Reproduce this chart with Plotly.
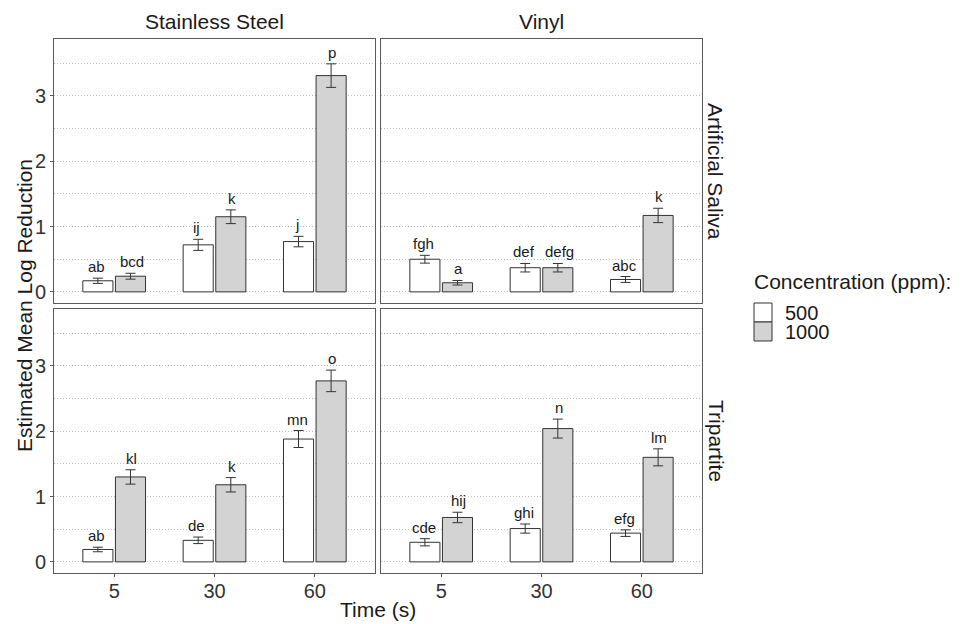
import plotly.graph_objects as go
from plotly.subplots import make_subplots

# ---- data ----
times = ["5", "30", "60"]
surfaces = ["Stainless Steel", "Vinyl"]
soils = ["Artificial Saliva", "Tripartite"]
conc_labels = ["500", "1000"]
legend_title = "Concentration (ppm):"

# Estimated mean log reduction (per time)
ss_saliva_500 = [0.17, 0.72, 0.77]
ss_saliva_1000 = [0.24, 1.15, 3.31]
vi_saliva_500 = [0.50, 0.37, 0.19]
vi_saliva_1000 = [0.14, 0.37, 1.17]
ss_tri_500 = [0.19, 0.33, 1.88]
ss_tri_1000 = [1.30, 1.18, 2.77]
vi_tri_500 = [0.30, 0.51, 0.44]
vi_tri_1000 = [0.68, 2.04, 1.60]

# standard errors
ss_saliva_500_se = [0.04, 0.085, 0.08]
ss_saliva_1000_se = [0.045, 0.105, 0.18]
vi_saliva_500_se = [0.06, 0.065, 0.045]
vi_saliva_1000_se = [0.035, 0.065, 0.11]
ss_tri_500_se = [0.035, 0.05, 0.13]
ss_tri_1000_se = [0.11, 0.11, 0.165]
vi_tri_500_se = [0.055, 0.07, 0.05]
vi_tri_1000_se = [0.08, 0.145, 0.13]

# letter groupings
ss_saliva_500_lab = ["ab", "ij", "j"]
ss_saliva_1000_lab = ["bcd", "k", "p"]
vi_saliva_500_lab = ["fgh", "def", "abc"]
vi_saliva_1000_lab = ["a", "defg", "k"]
ss_tri_500_lab = ["ab", "de", "mn"]
ss_tri_1000_lab = ["kl", "k", "o"]
vi_tri_500_lab = ["cde", "ghi", "efg"]
vi_tri_1000_lab = ["hij", "n", "lm"]

panels = [
    (1, 1, [(ss_saliva_500, ss_saliva_500_se, ss_saliva_500_lab), (ss_saliva_1000, ss_saliva_1000_se, ss_saliva_1000_lab)]),
    (1, 2, [(vi_saliva_500, vi_saliva_500_se, vi_saliva_500_lab), (vi_saliva_1000, vi_saliva_1000_se, vi_saliva_1000_lab)]),
    (2, 1, [(ss_tri_500, ss_tri_500_se, ss_tri_500_lab), (ss_tri_1000, ss_tri_1000_se, ss_tri_1000_lab)]),
    (2, 2, [(vi_tri_500, vi_tri_500_se, vi_tri_500_lab), (vi_tri_1000, vi_tri_1000_se, vi_tri_1000_lab)]),
]

fills = ["#FFFFFF", "#D3D3D3"]
FONT = "Liberation Sans, Arial, sans-serif"
EDGE = "#333333"
TXT = "#1A1A1A"
GRID = "#BEBEBE"
DOT = "1px,2px"
FRAME = "#5A5A5A"

fig = make_subplots(rows=2, cols=2)

for r, c, series in panels:
    for k, (vals, se, labs) in enumerate(series):
        fig.add_trace(
            go.Bar(
                x=times, y=vals, name=conc_labels[k],
                marker=dict(color=fills[k], line=dict(color=EDGE, width=1)),
                error_y=dict(type="data", array=se, visible=True, color=EDGE,
                             thickness=1, width=5),
                showlegend=False, offsetgroup=str(k),
            ),
            row=r, col=c,
        )

# domains (paper fractions)
W, H = 976, 624
xdom = [(54 / W, 375 / W), (381 / W, 702 / W)]
ydom = [(1 - 303 / H, 1 - 39 / H), (1 - 573 / H, 1 - 309 / H)]

ax_i = 0
for r in (1, 2):
    for c in (1, 2):
        ax_i += 1
        sx = "xaxis" if ax_i == 1 else f"xaxis{ax_i}"
        sy = "yaxis" if ax_i == 1 else f"yaxis{ax_i}"
        fig.layout[sx].update(
            domain=xdom[c - 1], type="category", range=[-0.6, 2.6],
            automargin=False,
            showline=True, mirror=True, linecolor=FRAME, linewidth=1,
            showgrid=False, zeroline=False,
            ticks="outside" if r == 2 else "", ticklen=3, tickcolor=FRAME,
            showticklabels=(r == 2), ticklabelstandoff=-3,
            tickfont=dict(family=FONT, size=20, color="#333333"),
        )
        fig.layout[sy].update(
            domain=ydom[r - 1], range=[-0.17, 3.87],
            automargin=False,
            tickvals=[0, 1, 2, 3], ticktext=["0", "1", "2", "3"],
            showline=True, mirror=True, linecolor=FRAME, linewidth=1,
            showgrid=True, gridcolor=GRID, griddash=DOT, gridwidth=1,
            minor=dict(dtick=0.5, tick0=0, showgrid=True, gridcolor=GRID,
                       griddash=DOT, gridwidth=1),
            zeroline=False,
            ticks="outside" if c == 1 else "", ticklen=3, tickcolor=FRAME,
            showticklabels=(c == 1),
            tickfont=dict(family=FONT, size=20, color="#333333"),
        )

annotations = []
shapes = []
# letters above error bars
ax_i = 0
for r, c, series in panels:
    ax_i += 1
    xref = "x" if ax_i == 1 else f"x{ax_i}"
    yref = "y" if ax_i == 1 else f"y{ax_i}"
    for k, (vals, se, labs) in enumerate(series):
        off = -0.175 if k == 0 else 0.175
        for i, t in enumerate(times):
            annotations.append(dict(
                x=i + off, y=vals[i] + se[i], xref=xref, yref=yref,
                text=labs[i], showarrow=False, yanchor="bottom", xanchor="center",
                yshift=1, font=dict(family=FONT, size=15, color=TXT),
            ))

# strip labels
for j, s in enumerate(surfaces):
    annotations.append(dict(
        x=(xdom[j][0] + xdom[j][1]) / 2, y=1 - 22 / H, xref="paper", yref="paper",
        text=s, showarrow=False, xanchor="center", yanchor="middle",
        font=dict(family=FONT, size=21, color=TXT),
    ))
for j, s in enumerate(soils):
    annotations.append(dict(
        x=716 / W, y=(ydom[j][0] + ydom[j][1]) / 2, xref="paper", yref="paper",
        text=s, showarrow=False, xanchor="center", yanchor="middle", textangle=90,
        font=dict(family=FONT, size=21, color=TXT),
    ))

# axis titles
annotations.append(dict(
    x=24 / W, y=1 - 306 / H, xref="paper", yref="paper",
    text="Estimated Mean Log Reduction", showarrow=False, textangle=-90,
    xanchor="center", yanchor="middle",
    font=dict(family=FONT, size=21, color=TXT),
))
annotations.append(dict(
    x=378 / W, y=1 - 609 / H, xref="paper", yref="paper",
    text="Time (s)", showarrow=False, xanchor="center", yanchor="middle",
    font=dict(family=FONT, size=21, color=TXT),
))

# legend (keys drawn as boxes next to real text)
annotations.append(dict(
    x=752 / W, y=1 - 282 / H, xref="paper", yref="paper",
    text=legend_title, showarrow=False, xanchor="left", yanchor="middle",
    font=dict(family=FONT, size=21, color=TXT),
))
key_top = 303
key_h = 19
for k, lab in enumerate(conc_labels):
    y0 = key_top + k * key_h
    shapes.append(dict(
        type="rect", xref="paper", yref="paper",
        x0=754 / W, x1=772 / W, y0=1 - (y0 + key_h) / H, y1=1 - y0 / H,
        fillcolor=fills[k], line=dict(color=EDGE, width=1),
    ))
    annotations.append(dict(
        x=783 / W, y=1 - (y0 + key_h / 2) / H, xref="paper", yref="paper",
        text=lab, showarrow=False, xanchor="left", yanchor="middle",
        height=18, valign="middle",
        font=dict(family=FONT, size=20, color=TXT),
    ))

fig.update_layout(
    width=W, height=H,
    margin=dict(l=0, r=0, t=0, b=0),
    paper_bgcolor="white", plot_bgcolor="white",
    font=dict(family=FONT, color=TXT),
    barmode="group", bargap=0.35, bargroupgap=0.077,
    annotations=annotations, shapes=shapes,
    showlegend=False,
)

fig.write_html(
    "out.html",
    config={"displayModeBar": False},
    post_script="document.body.style.margin='0';document.body.style.overflow='hidden';",
)
